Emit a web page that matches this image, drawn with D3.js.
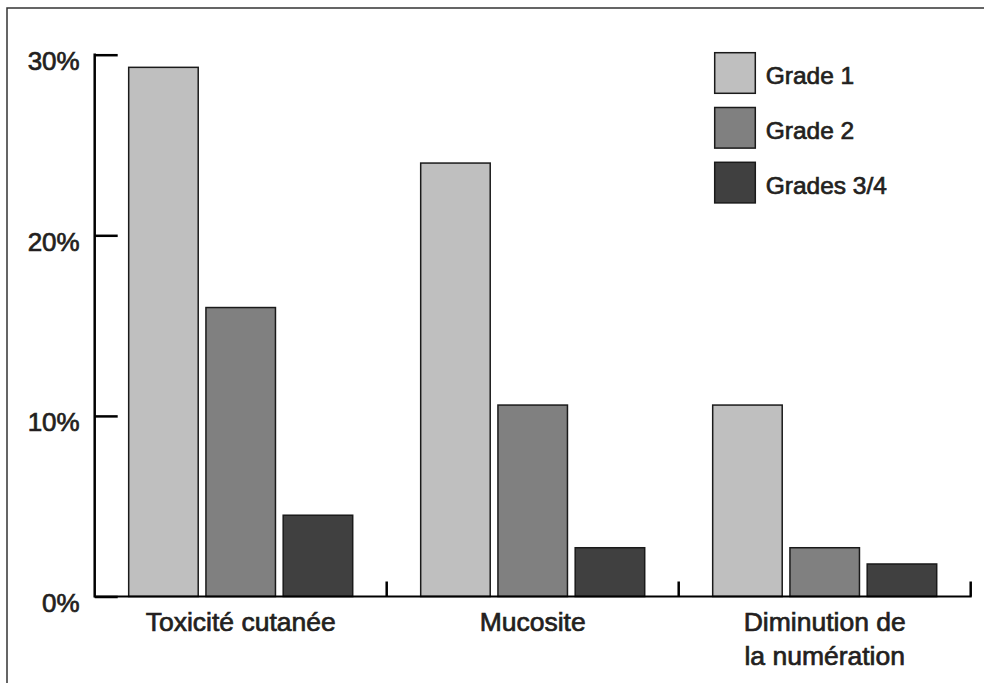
<!DOCTYPE html>
<html>
<head>
<meta charset="utf-8">
<script src="https://cdn.jsdelivr.net/npm/d3@7/dist/d3.min.js"></script>
<style>
  html, body { margin: 0; padding: 0; background: #fff; }
  svg { display: block; }
  text { font-family: "Liberation Sans", Arial, Helvetica, sans-serif; fill: #231f20; stroke: #231f20; stroke-width: 0.7px; }
</style>
</head>
<body>
<svg id="chart" width="984" height="683"></svg>
<script>
const categories = ["Toxicité cutanée", "Mucosite", "Diminution de la numération"];
const categoryLines = [["Toxicité cutanée"], ["Mucosite"], ["Diminution de", "la numération"]];
const grades = ["Grade 1", "Grade 2", "Grades 3/4"];
const grade1 = [29.3, 24.0, 10.6];
const grade2 = [16.0, 10.6, 2.7];
const grade34 = [4.5, 2.7, 1.8];
const yTicks = [0, 10, 20, 30];
const colors = ["#bfbfbf", "#808080", "#404040"];

const series = [grade1, grade2, grade34];
const data = categories.map((c, i) => ({
  cat: c, lines: categoryLines[i],
  vals: grades.map((g, j) => ({ grade: g, value: series[j][i], color: colors[j] }))
}));

const svg = d3.select("#chart");

// frame (top and left edges, extends past the window)
svg.append("rect").attr("x", 7).attr("y", 8).attr("width", 1100).attr("height", 800)
  .attr("fill", "none").attr("stroke", "#333").attr("stroke-width", 1.5);

const y = d3.scaleLinear().domain([0, 30]).range([596.5, 54.7]);
const x0 = d3.scaleBand().domain(categories).range([94.7, 970.7]).padding(0);
const x1 = d3.scaleBand().domain(grades).range([0, x0.bandwidth()]).paddingInner(0.1).paddingOuter(0.44);

// bars
const g = svg.append("g");
const groups = g.selectAll("g.grp").data(data).join("g")
  .attr("class", "grp").attr("transform", d => `translate(${x0(d.cat)},0)`);
groups.selectAll("rect").data(d => d.vals).join("rect")
  .attr("x", d => x1(d.grade)).attr("width", x1.bandwidth())
  .attr("y", d => y(d.value)).attr("height", d => y(0) - y(d.value))
  .attr("fill", d => d.color).attr("stroke", "#1a1a1a").attr("stroke-width", 1.5);

// y axis
const yAxis = d3.axisLeft(y).tickValues(yTicks).tickSizeInner(-23).tickSizeOuter(0)
  .tickPadding(15).tickFormat(d => d + "%");
const ya = svg.append("g").attr("transform", "translate(94.7,0)").call(yAxis);
ya.select(".domain").remove();
ya.selectAll(".tick line").attr("stroke", "#000").attr("stroke-width", 2.5);
ya.selectAll(".tick text").attr("font-size", 26).attr("dy", "15px")
  .style("font-family", '"Liberation Sans", Arial, sans-serif');
svg.append("line").attr("x1", 94.7).attr("x2", 94.7).attr("y1", y(30) - 1.25).attr("y2", y(0) + 1)
  .attr("stroke", "#000").attr("stroke-width", 2.5);

// x baseline and group ticks
svg.append("line").attr("x1", 94.7).attr("x2", x0.range()[1] + 1).attr("y1", y(0)).attr("y2", y(0))
  .attr("stroke", "#000").attr("stroke-width", 2);
svg.selectAll("line.gtick").data(categories).join("line").attr("class", "gtick")
  .attr("x1", d => x0(d) + x0.bandwidth()).attr("x2", d => x0(d) + x0.bandwidth())
  .attr("y1", y(0)).attr("y2", y(0) - 15)
  .attr("stroke", "#000").attr("stroke-width", 2.5);

// category labels
const lab = svg.selectAll("text.cat").data(data).join("text").attr("class", "cat")
  .attr("text-anchor", "middle").attr("font-size", 26.5)
  .attr("transform", d => `translate(${x0(d.cat) + x0.bandwidth() / 2},631)`);
lab.selectAll("tspan").data(d => d.lines).join("tspan")
  .attr("x", 0).attr("y", (d, i) => i * 34).text(d => d);

// legend
const leg = svg.append("g").selectAll("g").data(grades).join("g")
  .attr("transform", (d, i) => `translate(714.7,${52.7 + i * 54.8})`);
leg.append("rect").attr("width", 40.6).attr("height", 40.6)
  .attr("fill", (d, i) => colors[i]).attr("stroke", "#1a1a1a").attr("stroke-width", 1.5);
leg.append("text").attr("x", 51).attr("y", 31.6).attr("font-size", 24.5).text(d => d);
</script>
</body>
</html>
